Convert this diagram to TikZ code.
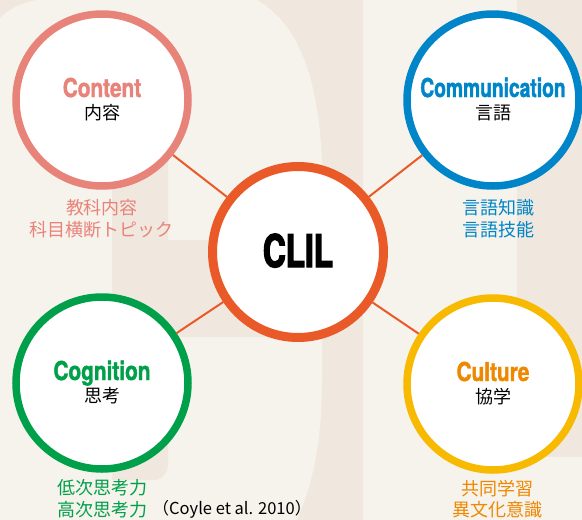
\documentclass[tikz,border=0pt]{standalone}
\usepackage{fontspec}
\usetikzlibrary{positioning}
\newfontfamily\jpfont{Noto Sans CJK JP}
\newfontfamily\ttlfont{TeX Gyre Heros}[FakeStretch=0.8,FakeBold=1.5]
\newfontfamily\ttlnarrow{TeX Gyre Heros}[FakeStretch=0.74,FakeBold=1.5]
\newfontfamily\clilfont{TeX Gyre Heros}[FakeStretch=0.7,FakeBold=3]
\definecolor{bglight}{RGB}{246,242,236}
\definecolor{bgdark}{RGB}{240,232,223}
\definecolor{clilred}{RGB}{233,90,40}
\definecolor{contentc}{RGB}{232,131,121}
\definecolor{commc}{RGB}{0,133,200}
\definecolor{cogc}{RGB}{0,160,74}
\definecolor{cultring}{RGB}{247,186,0}
\definecolor{cultc}{RGB}{238,136,0}
\tikzset{ring/.style={circle,draw,fill=white,line width=7.5pt,minimum size=172pt,inner sep=0pt}}
\tikzset{core/.style={ring,draw=clilred,line width=9pt,minimum size=171pt}}
\tikzset{ttl/.style={anchor=base,font=\ttlfont\bfseries\fontsize{26}{26}\selectfont}}
\tikzset{sub/.style={anchor=base,text=black,font=\jpfont\fontsize{18}{18}\selectfont}}
\tikzset{desc/.style={anchor=base,font=\jpfont\fontsize{18}{18}\selectfont}}
\tikzset{link/.style={draw=clilred,line width=2pt}}

\begin{document}
\begin{tikzpicture}[x=1pt,y=-1pt]
    \useasboundingbox (0,0) rectangle (582,520);
    % background letter shapes
    \fill[bgdark] (0,0) rectangle (582,520);
    \fill[bglight] (0,520) -- (0,18) .. controls (10,8) and (24,2) .. (37,0) -- (257,0)
        .. controls (300,25) and (318,80) .. (322,160) -- (322,380)
        .. controls (322,450) and (310,490) .. (297,520) -- cycle;
    \fill[bgdark] (112,150) -- (168,150) -- (168,240) -- (322,240) -- (322,337) -- (168,337)
        [rounded corners=15pt] -- (168,480) [sharp corners] -- (112,480) -- cycle;
    \fill[bglight] (363,0) rectangle (517,520);
    \fill[bglight] (517,457) rectangle (582,520);

    \node[ring,draw=contentc] (content) at (102,100) {};
    \node[ring,draw=commc] (comm) at (493,100) {};
    \node[core] (clil) at (298,252) {};
    \node[ring,draw=cogc] (cog) at (102,383) {};
    \node[ring,draw=cultring] (cult) at (493,384) {};

    \node[ttl,text=contentc] (content-t) at ([yshift=3pt]content.center) {Content};
    \node[sub] (content-s) at ([yshift=-19.5pt]content.center) {内容};
    \node[desc,text=contentc] (content-d1) at ([yshift=-114.5pt]content.center) {教科内容};
    \node[desc,text=contentc] (content-d2) at ([yshift=-136.5pt]content.center) {科目横断トピック};

    \node[ttl,text=commc,font=\ttlnarrow\bfseries\fontsize{26}{26}\selectfont] (comm-t) at ([yshift=3pt]comm.center) {Communication};
    \node[sub] (comm-s) at ([yshift=-19.5pt]comm.center) {言語};
    \node[desc,text=commc] (comm-d1) at ([xshift=5pt,yshift=-114.5pt]comm.center) {言語知識};
    \node[desc,text=commc] (comm-d2) at ([xshift=5pt,yshift=-136.5pt]comm.center) {言語技能};

    \node[anchor=base,font=\clilfont\bfseries\fontsize{45}{45}\selectfont] (clil-t) at ([yshift=-15pt]clil.center) {CLIL};

    \node[ttl,text=cogc] (cog-t) at ([yshift=3pt]cog.center) {Cognition};
    \node[sub] (cog-s) at ([yshift=-19.5pt]cog.center) {思考};
    \node[desc,text=cogc] (cog-d1) at ([yshift=-111.5pt]cog.center) {低次思考力};
    \node[desc,text=cogc] (cog-d2) at ([yshift=-133pt]cog.center) {高次思考力};

    \node[ttl,text=cultc] (cult-t) at ([yshift=3pt]cult.center) {Culture};
    \node[sub] (cult-s) at ([yshift=-19.5pt]cult.center) {協学};
    \node[desc,text=cultc] (cult-d1) at ([xshift=4.5pt,yshift=-111pt]cult.center) {共同学習};
    \node[desc,text=cultc] (cult-d2) at ([xshift=4.5pt,yshift=-132.5pt]cult.center) {異文化意識};

    \node[anchor=base,font=\jpfont\fontsize{16.5}{16.5}\selectfont] (cite) at (232,514) {（Coyle et al. 2010）};

    \path[link] (content) -- (clil);
    \path[link] (comm) -- (clil);
    \path[link] (cog) -- (clil);
    \path[link] (cult) -- (clil);
\end{tikzpicture}
\end{document}
